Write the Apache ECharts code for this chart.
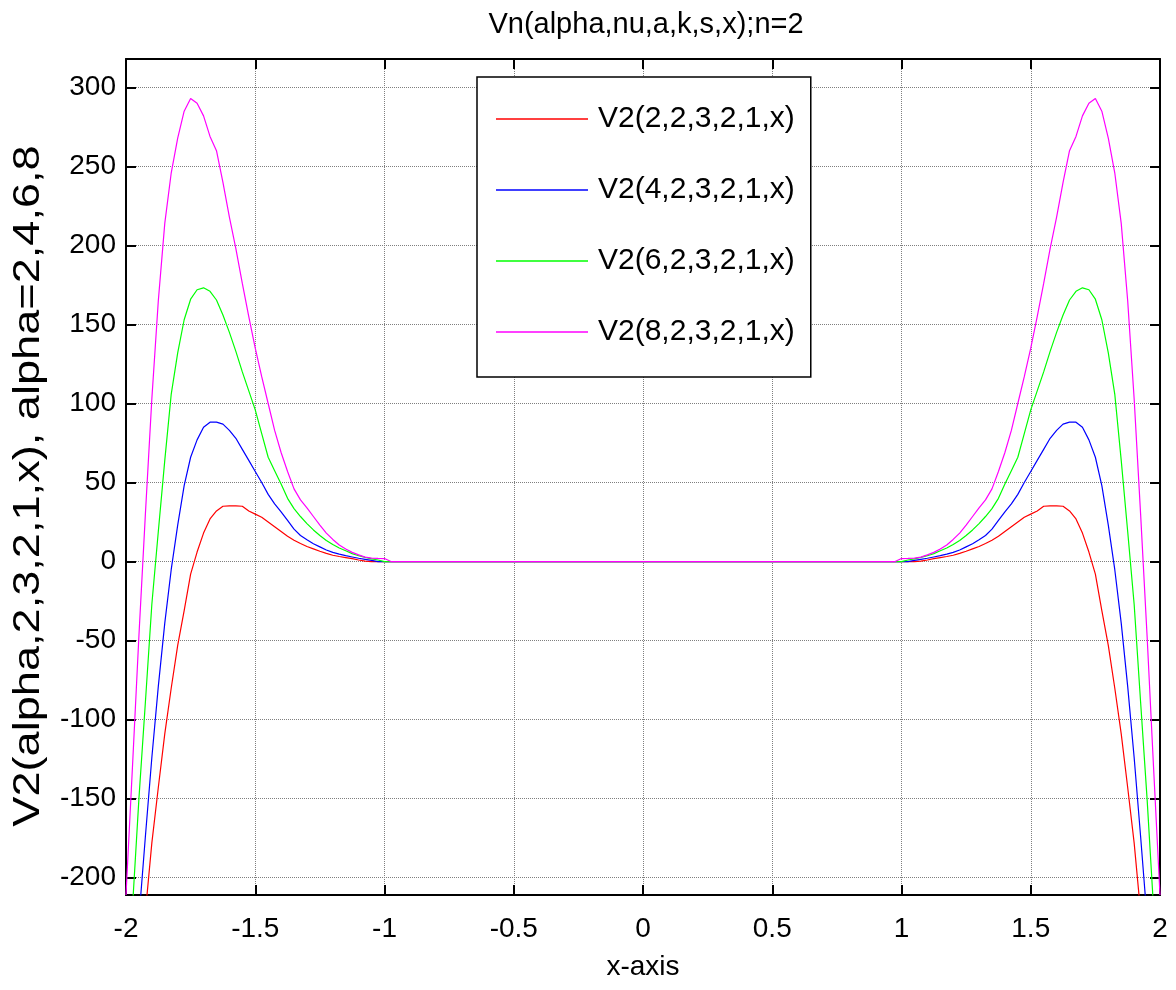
<!DOCTYPE html>
<html>
<head>
<meta charset="utf-8">
<script src="https://cdn.jsdelivr.net/npm/echarts@6/dist/echarts.min.js"></script>
<style>html,body{margin:0;padding:0;background:#fff;}#c{width:1176px;height:990px;}</style>
</head>
<body>
<div id="c"></div>
<script>
// x positions (shared by all series)
const xValues = [-2.000,-1.975,-1.950,-1.925,-1.900,-1.875,-1.850,-1.825,-1.800,-1.775,-1.750,-1.725,-1.700,-1.675,-1.650,-1.625,-1.600,-1.575,-1.550,-1.525,-1.500,-1.475,-1.450,-1.425,-1.400,-1.375,-1.350,-1.325,-1.300,-1.275,-1.250,-1.225,-1.200,-1.175,-1.150,-1.125,-1.100,-1.075,-1.050,-1.025,-1.000,-0.975,-0.950,
  -0.5,0,0.5,
  0.950,0.975,1.000,1.025,1.050,1.075,1.100,1.125,1.150,1.175,1.200,1.225,1.250,1.275,1.300,1.325,1.350,1.375,1.400,1.425,1.450,1.475,1.500,1.525,1.550,1.575,1.600,1.625,1.650,1.675,1.700,1.725,1.750,1.775,1.800,1.825,1.850,1.875,1.900,1.925,1.950,1.975,2.000];

// V2(2,2,3,2,1,x)
const v2alpha2 = [-390,-330,-275,-222,-178,-143,-109,-80,-53,-31,-8,6,18,27,32,35,35.2,35.2,35,32,30,28,25,22,19,16,13.5,11.4,9.5,8,6.5,5.2,4,3.2,2.5,1.8,1,0.3,0,0,0,0,0,
  0,0,0,
  0,0,0,0,0,0.3,1,1.8,2.5,3.2,4,5.2,6.5,8,9.5,11.4,13.5,16,19,22,25,28,30,32,35,35.2,35.2,35,32,27,18,6,-8,-31,-53,-80,-109,-143,-178,-222,-275,-330,-390];
// V2(4,2,3,2,1,x)
const v2alpha4 = [-355,-288,-226,-174,-124,-79,-39,-5,23,48,66,77,85,88.2,88.2,87,83,78,71,64,57,50,42.5,36.5,31.5,26,20.5,16.5,13.8,11.3,9.3,7.3,5.8,4.7,3.7,2.9,2.1,1.4,0.7,0,0,0,0,
  0,0,0,
  0,0,0,0,0.7,1.4,2.1,2.9,3.7,4.7,5.8,7.3,9.3,11.3,13.8,16.5,20.5,26,31.5,36.5,42.5,50,57,64,71,78,83,87,88.2,88.2,85,77,66,48,23,-5,-39,-79,-124,-174,-226,-288,-355];
// V2(6,2,3,2,1,x)
const v2alpha6 = [-300,-219,-150,-89,-27,19,64,106,132,153,166,172,173.2,171,165.5,156,145,133,120,108,96,81,66,57.5,49,40,33.5,28.5,24,20,16.5,13.3,10.8,8.6,6.8,5,3.7,2.6,1.7,1,0,0,0,
  0,0,0,
  0,0,0,1,1.7,2.6,3.7,5,6.8,8.6,10.8,13.3,16.5,20,24,28.5,33.5,40,49,57.5,66,81,96,108,120,133,145,156,165.5,171,173.2,172,166,153,132,106,64,19,-27,-89,-150,-219,-300];
// V2(8,2,3,2,1,x)
const v2alpha8 = [-211,-130,-47,30,103,165,214,246,268,285,293,290,282,269,260,240,218,198,176,155,135,117,100,83,69,57,46,39,34,28.5,23,18,14,10.5,8,5.8,4.2,2.8,2.2,2,1.9,0,0,
  0,0,0,
  0,0,1.9,2,2.2,2.8,4.2,5.8,8,10.5,14,18,23,28.5,34,39,46,57,69,83,100,117,135,155,176,198,218,240,260,269,282,290,293,285,268,246,214,165,103,30,-47,-130,-211];

const seriesNames = ['V2(2,2,3,2,1,x)','V2(4,2,3,2,1,x)','V2(6,2,3,2,1,x)','V2(8,2,3,2,1,x)'];
const seriesColors = ['#ff0000','#0000ff','#00ff00','#ff00ff'];
const seriesValues = [v2alpha2, v2alpha4, v2alpha6, v2alpha8];

const yTickValues = [-200,-150,-100,-50,0,50,100,150,200,250,300];
const xTickLabels = ['-2','-1.5','-1','-0.5','0','0.5','1','1.5','2'];
const yAxisTitle = 'V2(alpha,2,3,2,1,x), alpha=2,4,6,8';

const FONT = '"Liberation Sans", Arial, sans-serif';

const chart = echarts.init(document.getElementById('c'), null, {renderer: 'canvas'});

const gridLine = {show: true, lineStyle: {color: '#7f7f7f', type: [1, 1], width: 1}};

const option = {
  backgroundColor: '#fff',
  animation: false,
  title: {
    text: 'Vn(alpha,nu,a,k,s,x);n=2',
    left: 641, top: 5, textAlign: 'center',
    textStyle: {fontFamily: FONT, fontSize: 29, fontWeight: 'normal', color: '#000'}
  },
  graphic: [{
    type: 'text', x: 29, y: 486, rotation: Math.PI / 2, scaleX: 1.22, scaleY: 1,
    silent: true,
    style: {text: yAxisTitle, fontFamily: FONT, fontSize: 37, fill: '#000',
      align: 'center', verticalAlign: 'middle', textAlign: 'center', textVerticalAlign: 'middle'}
  }],
  grid: {left: 126, right: 16, top: 59, bottom: 95, containLabel: false},
  legend: {
    orient: 'vertical',
    left: 477, top: 77,
    padding: [27, 16, 30, 19],
    icon: 'rect',
    itemWidth: 92, itemHeight: 1.5, itemGap: 41,
    backgroundColor: '#fff', borderColor: '#000', borderWidth: 1.5,
    textStyle: {fontFamily: FONT, fontSize: 30, color: '#000', lineHeight: 30, padding: [0, 0, 0, 5]},
    data: seriesNames
  },
  xAxis: [{
    type: 'value', min: -2, max: 2, interval: 0.5,
    name: 'x-axis', nameLocation: 'middle', nameGap: 58,
    nameTextStyle: {fontFamily: FONT, fontSize: 28, color: '#000'},
    axisLine: {show: true, onZero: false, lineStyle: {color: '#000', width: 2}},
    axisTick: {show: true, inside: true, length: 10, lineStyle: {color: '#000', width: 2}},
    axisLabel: {fontFamily: FONT, fontSize: 28, color: '#000', margin: 20,
      formatter: function (v) { const i = Math.round((v + 2) / 0.5); return xTickLabels[i] !== undefined ? xTickLabels[i] : ''; }},
    splitLine: gridLine
  }, {
    type: 'value', min: -2, max: 2, interval: 0.5, position: 'top',
    axisLine: {show: true, onZero: false, lineStyle: {color: '#000', width: 2}},
    axisTick: {show: true, inside: true, length: 10, lineStyle: {color: '#000', width: 2}},
    axisLabel: {show: false}, splitLine: {show: false}
  }],
  yAxis: [{
    type: 'value', min: -211, max: 318,
    axisLine: {show: true, onZero: false, lineStyle: {color: '#000', width: 2}},
    axisTick: {show: true, inside: true, length: 10, customValues: yTickValues, lineStyle: {color: '#000', width: 2}},
    axisLabel: {fontFamily: FONT, fontSize: 28, color: '#000', margin: 10, customValues: yTickValues},
    splitLine: gridLine
  }, {
    type: 'value', min: -211, max: 318, position: 'right',
    axisLine: {show: true, onZero: false, lineStyle: {color: '#000', width: 2}},
    axisTick: {show: true, inside: true, length: 10, customValues: yTickValues, lineStyle: {color: '#000', width: 2}},
    axisLabel: {show: false, customValues: yTickValues}, splitLine: {show: false}
  }],
  series: seriesValues.map(function (vals, k) {
    return {
      name: seriesNames[k], type: 'line', xAxisIndex: 0, yAxisIndex: 0,
      data: xValues.map(function (x, i) { return [x, vals[i]]; }),
      symbol: 'none', showSymbol: false, smooth: false, clip: true,
      lineStyle: {color: seriesColors[k], width: 1.2},
      itemStyle: {color: seriesColors[k]},
      z: 3 + k
    };
  })
};
chart.setOption(option);
</script>
</body>
</html>
